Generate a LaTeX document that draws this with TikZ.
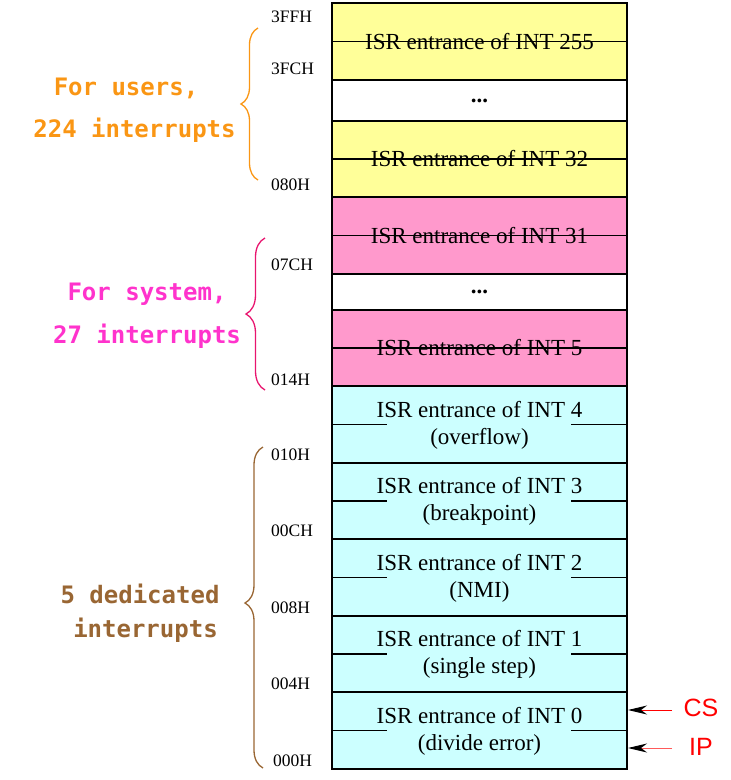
\documentclass[tikz,border=0pt]{standalone}
\usepackage{fontspec}
\setmainfont{Liberation Serif}
\newfontfamily\labfont{DejaVu Sans Mono}
\newfontfamily\regfont{Liberation Sans}
\usetikzlibrary{decorations.pathreplacing,arrows.meta}
\definecolor{cyellow}{RGB}{255,255,153}
\definecolor{cpink}{RGB}{255,153,204}
\definecolor{ccyan}{RGB}{204,255,255}
\definecolor{torange}{RGB}{250,150,20}
\definecolor{tpink}{RGB}{255,51,204}
\definecolor{bpink}{RGB}{232,20,110}
\definecolor{tbrown}{RGB}{153,102,51}
\definecolor{lred}{RGB}{255,90,90}
\tikzset{
  cell/.style={draw=black, line width=1.2pt, minimum width=295pt, inner sep=0pt, font=\fontsize{23}{25}\selectfont},
  isr/.style={inner sep=0pt, font=\fontsize{23}{25}\selectfont},
  addr/.style={anchor=west, inner sep=0pt, font=\fontsize{17.5}{19}\selectfont},
  grp/.style={inner sep=0pt, font=\labfont\bfseries\fontsize{24}{26}\selectfont},
  brc/.style={decorate, line width=1.3pt},
  ptr/.style={line width=1pt, -{Stealth[black, length=19pt, width=9pt, inset=6pt]}},
  reg/.style={inner sep=0pt, text=red, font=\regfont\fontsize{25}{27}\selectfont},
  mid/.style={line width=1.2pt}
}
\begin{document}
\begin{tikzpicture}[x=1pt,y=-1pt]
\useasboundingbox (0,0) rectangle (731,780);
% upper cells
\node[cell, fill=cyellow, minimum height=77pt] (r255) at (479.5,41.5) {ISR entrance of INT 255};
\node[cell, fill=white, minimum height=41pt] (d1) at (479.5,100.5) {\textbf{...}};
\node[cell, fill=cyellow, minimum height=76pt] (r32) at (479.5,159) {ISR entrance of INT 32};
\node[cell, fill=cpink, minimum height=77pt] (r31) at (479.5,235.5) {ISR entrance of INT 31};
\node[cell, fill=white, minimum height=36pt] (d2) at (479.5,292) {\textbf{...}};
\node[cell, fill=cpink, minimum height=76pt] (r5) at (479.5,348) {ISR entrance of INT 5};
\draw[mid] (r255.west) -- (r255.east);
\draw[mid] (r32.west) -- (r32.east);
\draw[mid] (r31.west) -- (r31.east);
\draw[mid] (r5.west) -- (r5.east);
% lower cells
\foreach \n/\c/\h/\t in {4/424.5/77/overflow, 3/501/76/breakpoint, 2/577.5/77/NMI, 1/654/76/single step, 0/730.5/77/divide error}{
  \node[cell, fill=ccyan, minimum height=\h pt] (r\n) at (479.5,\c) {};
  \draw[mid] (r\n.west) -- ++(56,0);
  \draw[mid] (r\n.east) -- ++(-57,0);
  \node[isr] (a\n) at (479.5,\c-15) {ISR entrance of INT \n};
  \node[isr] (b\n) at (479.5,\c+14) {(\t)};
}
% addresses
\node[addr] (h3ff) at (271,17) {3FFH};
\node[addr] (h3fc) at (271,69) {3FCH};
\node[addr] (h080) at (271,185) {080H};
\node[addr] (h07c) at (271,265) {07CH};
\node[addr] (h014) at (271,380) {014H};
\node[addr] (h010) at (271,455) {010H};
\node[addr] (h00c) at (271,531) {00CH};
\node[addr] (h008) at (271,608) {008H};
\node[addr] (h004) at (271,684) {004H};
\node[addr] (h000) at (273,761) {000H};
% braces
\coordinate (ob) at (258,180); \coordinate (ot) at (258,28);
\draw[brc, torange, decoration={brace, amplitude=17pt}] (ob) -- (ot);
\coordinate (pb) at (265,390); \coordinate (pt) at (265,238);
\draw[brc, bpink, decoration={brace, amplitude=19pt}] (pb) -- (pt);
\coordinate (bb) at (263,768); \coordinate (bt) at (263,447);
\draw[brc, tbrown, decoration={brace, amplitude=18pt, aspect=0.514}] (bb) -- (bt);
% group labels
\node[grp, text=torange] (u1) at (126,88) {For users,};
\node[grp, text=torange] (u2) at (134.5,130) {224 interrupts};
\node[grp, text=tpink] (s1) at (147,294) {For system,};
\node[grp, text=tpink] (s2) at (147,336) {27 interrupts};
\node[grp, text=tbrown] (e1) at (140,594) {5 dedicated};
\node[grp, text=tbrown] (e2) at (145.5,630) {interrupts};
% CS / IP pointers
\coordinate (csf) at (672,710); \coordinate (cst) at (628,710);
\coordinate (ipf) at (672,748); \coordinate (ipt) at (628,748);
\draw[ptr, red] (csf) -- (cst);
\draw[ptr, lred] (ipf) -- (ipt);
\node[reg] (cs) at (701,708) {CS};
\node[reg] (ip) at (701,747) {IP};
\end{tikzpicture}
\end{document}
